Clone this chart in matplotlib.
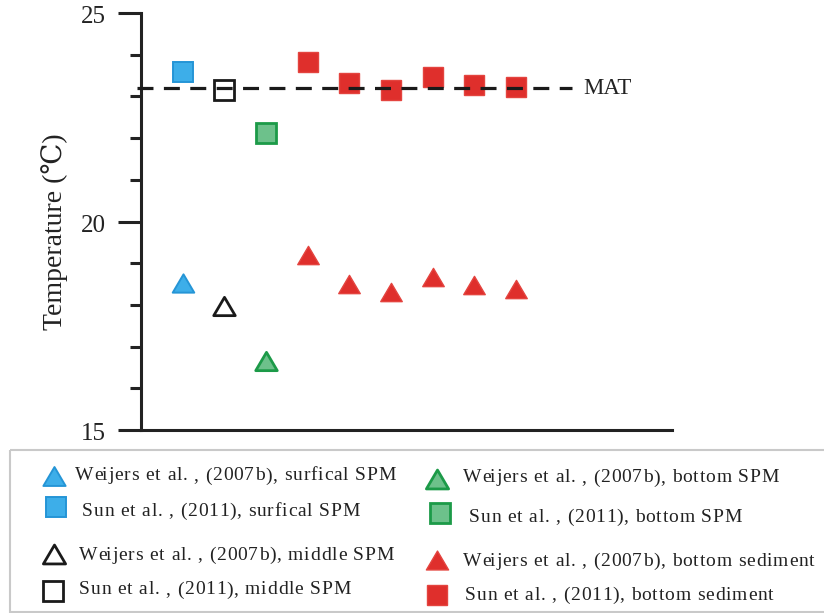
import matplotlib
matplotlib.use("Agg")
import matplotlib.pyplot as plt
from matplotlib.patches import Rectangle
from matplotlib.path import Path
from matplotlib.transforms import ScaledTranslation
from matplotlib.font_manager import FontProperties

# ---- data -----------------------------------------------------------------
surf_x = [1]
surf_weijers = [18.53]
surf_sun = [23.58]

middle_x = [2]
middle_weijers = [17.97]
middle_sun = [23.15]

bottom_x = [3]
bottom_weijers = [16.65]
bottom_sun = [22.12]

sediment_x = [4, 5, 6, 7, 8, 9]
sediment_weijers = [19.20, 18.50, 18.32, 18.68, 18.48, 18.38]
sediment_sun = [23.83, 23.31, 23.15, 23.47, 23.27, 23.23]

mat_value = 23.2
mat_label = "MAT"

y_major = [15, 20, 25]
y_minor = [16, 17, 18, 19, 21, 22, 23, 24]
y_label = "Temperature (\u2103)"

legend_labels = [
    "Weijers et al. , (2007b), surfical SPM",
    "Sun et al. , (2011), surfical SPM",
    "Weijers et al. , (2007b), middle SPM",
    "Sun et al. , (2011), middle SPM",
    "Weijers et al. , (2007b), bottom SPM",
    "Sun et al. , (2011), bottom SPM",
    "Weijers et al. , (2007b), bottom sediment",
    "Sun et al. , (2011), bottom sediment",
]

# ---- styles -----------------------------------------------------------------
SERIF = ["Liberation Serif", "DejaVu Serif"]
INK = "#222222"
tri = Path([(-1, -0.85), (1, -0.85), (0, 0.85), (-1, -0.85)],
           [Path.MOVETO, Path.LINETO, Path.LINETO, Path.CLOSEPOLY])

blue = dict(mfc="#3DAEE9", mec="#2595D6", mew=1.4)
black = dict(mfc="white", mec="#1a1a1a", mew=2.0)
green = dict(mfc="#6DC18B", mec="#1C9A48", mew=2.0)
red = dict(mfc="#DF2F2C", mec="#E4443F", mew=1.0)

plt.rcParams["lines.scale_dashes"] = False

fig = plt.figure(figsize=(8.24, 6.13), dpi=100)
renderer = fig.canvas.get_renderer()
ax = fig.add_axes([141 / 824, 1 - 430 / 613, (672 - 141) / 824, (430 - 13) / 613])

TRI_MS = 15.5
SQ_MS = 14.3

ax.plot(surf_x, surf_weijers, ls="none", marker=tri, ms=TRI_MS, **blue)
ax.plot(surf_x, surf_sun, ls="none", marker="s", ms=SQ_MS, **blue)
ax.plot(middle_x, middle_weijers, ls="none", marker=tri, ms=TRI_MS, **black)
ax.plot(middle_x, middle_sun, ls="none", marker="s", ms=SQ_MS, **black)
ax.plot(bottom_x, bottom_weijers, ls="none", marker=tri, ms=TRI_MS, **green)
ax.plot(bottom_x, bottom_sun, ls="none", marker="s", ms=SQ_MS, **green)
ax.plot(sediment_x, sediment_weijers, ls="none", marker=tri, ms=TRI_MS, **red)
ax.plot(sediment_x, sediment_sun, ls="none", marker="s", ms=SQ_MS, **red)

# mean annual temperature reference line
ax.plot([-0.1, 10.33], [mat_value, mat_value], color="#1a1a1a", lw=2.3,
        dashes=(11.5, 7.5), clip_on=False, zorder=5)
ax.text(10.6, mat_value, mat_label, fontsize=16.5, family=SERIF,
        va="center", ha="left", color=INK)

ax.set_xlim(0, 12.74)
ax.set_ylim(15, 25)
ax.set_xticks([])
ax.set_yticks(y_major)
ax.set_yticks(y_minor, minor=True)
ax.tick_params(axis="y", which="major", length=16.5, width=2.2,
               color=INK, labelleft=False)
ax.tick_params(axis="y", which="minor", length=8, width=2.2, color=INK)

# tick labels sit a little below their ticks
lbl_off = ScaledTranslation(-25.5 / 72, -4 / 100, fig.dpi_scale_trans)
for v in y_major:
    ax.text(0, v, str(v), transform=ax.get_yaxis_transform() + lbl_off,
            ha="right", va="center", family=SERIF, fontsize=18, color=INK)

for side in ("top", "right"):
    ax.spines[side].set_visible(False)
for side in ("left", "bottom"):
    ax.spines[side].set_linewidth(2.2)
    ax.spines[side].set_color(INK)
ax.set_ylabel(y_label, family=SERIF, fontsize=20, color=INK)
ax.yaxis.set_label_coords(-0.137, 0.475)

# ---- legend panel (pixel layout) -------------------------------------------
lg = fig.add_axes([0, 0, 1, 1])
lg.set_xlim(0, 824)
lg.set_ylim(613, 0)
lg.axis("off")
lg.add_patch(Rectangle((10, 450), 830, 162, fill=False, ec="#C9C9C9", lw=1.5))

LEG_FONT = FontProperties(family=SERIF, size=14)
TRACK = 0.8  # extra pixels between letters


def prefix_width(s):
    """Advance width (px) of a string, measured with a trailing sentinel."""
    w_s, _, _ = renderer.get_text_width_height_descent(s + "|", LEG_FONT, False)
    w_bar, _, _ = renderer.get_text_width_height_descent("|", LEG_FONT, False)
    return w_s - w_bar


def tracked_text(x, y, s):
    for i, ch in enumerate(s):
        if ch == " ":
            continue
        cx = x + prefix_width(s[:i]) + TRACK * i
        lg.text(cx, y, ch, fontproperties=LEG_FONT, va="baseline",
                ha="left", color=INK)


styles = [blue, blue, black, black, green, green, red, red]
markers = [tri, "s"] * 4
marker_x = [54, 56, 54, 53, 437, 440, 437, 437]
marker_y = [476, 507, 554, 591, 479, 513, 560, 595]
text_x = [75, 82, 79, 79, 463, 469, 463, 465]
text_y = [475, 510, 554, 589, 477, 516, 560, 594]

for lab, st, mk, mx, my, tx, ty in zip(legend_labels, styles, markers,
                                       marker_x, marker_y, text_x, text_y):
    ms = 16 if mk is tri else 14
    lg.plot([mx], [my], ls="none", marker=mk, ms=ms, **st)
    # baseline roughly 5 px below the visual centre of the line
    tracked_text(tx, ty + 5.5, lab)

fig.savefig("out.png", dpi=100)
